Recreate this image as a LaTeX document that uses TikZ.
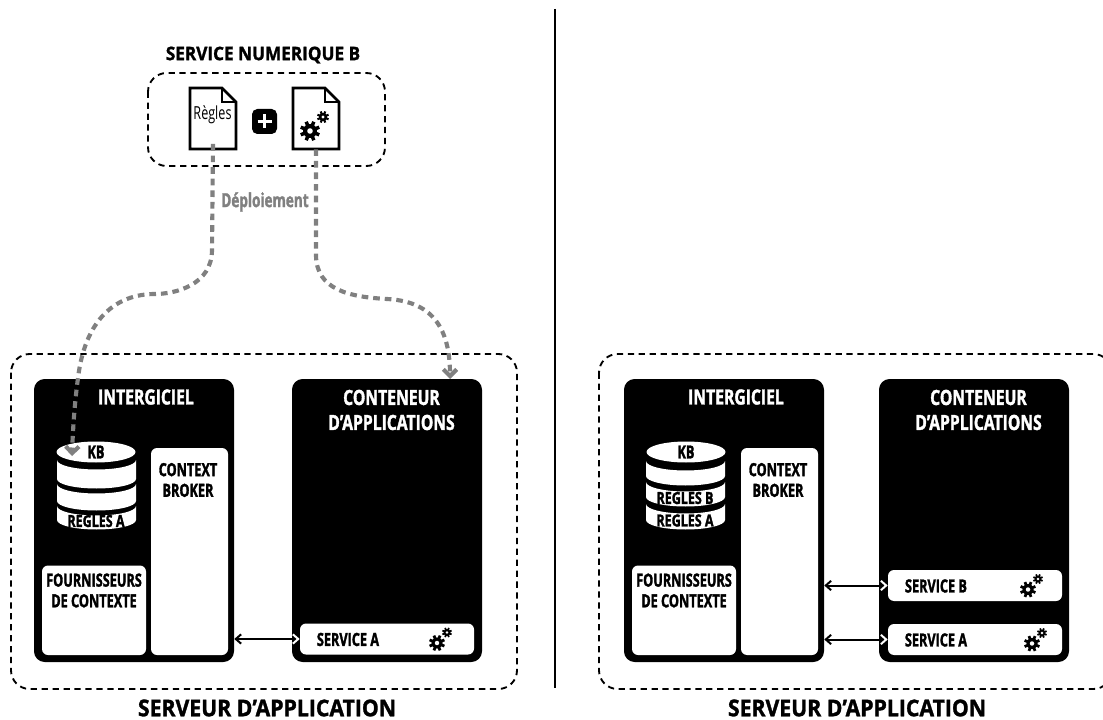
\documentclass[tikz,border=0pt]{standalone}
\usepackage{fontspec}
\setmainfont[FakeStretch=0.7, BoldFeatures={FakeBold=1.6}]{Open Sans}
\newfontfamily\headfont[FakeStretch=0.75, BoldFeatures={FakeBold=1.6}]{Open Sans}
\newfontfamily\widefont[FakeStretch=0.92, BoldFeatures={FakeBold=1.4}]{Open Sans}
\usetikzlibrary{arrows.meta}

\tikzset{
  server/.style={draw, line width=1.4pt, dash pattern=on 4.7pt off 3.5pt, rounded corners=14pt},
  block/.style={fill=black, rounded corners=8pt},
  panel/.style={fill=white, rounded corners=4.5pt},
  title/.style={font=\widefont\bfseries\fontsize{14}{16}\selectfont, align=center, inner sep=0pt},
  bigtitle/.style={font=\widefont\bfseries\fontsize{17.3}{18}\selectfont, align=center, inner sep=0pt},
  heading/.style={text=white, font=\headfont\bfseries\fontsize{15.7}{18.75}\selectfont, align=center, inner sep=0pt},
  label/.style={font=\bfseries\fontsize{13.6}{15.5}\selectfont, align=center, inner sep=0pt},
  rules/.style={font=\headfont\bfseries\fontsize{12.5}{15}\selectfont, inner sep=0pt},
  link/.style={{Straight Barb[length=4pt,width=7pt]}-{Straight Barb[length=4pt,width=7pt,color=white]}, line width=1.5pt},
  deploy/.style={draw=black!50, line width=3.1pt, dash pattern=on 5pt off 3.7pt},
  deployhead/.style={-{Straight Barb[length=5pt,width=10pt]}}
}

% Filled area as a node: style, name, left, top, right, bottom
\newcommand{\area}[6]{
  \node[#1, inner sep=0pt, minimum width={((#5)-(#3))*0.75pt}, minimum height={((#6)-(#4))*0.75pt}]
    (#2) at ({((#3)+(#5))/2},{((#4)+(#6))/2}) {};
}

% Gear: centre, radius
\newcommand{\gear}[2]{
  \foreach \a in {0,45,...,315}
    \draw[line width=#2*0.26pt] (#1) -- ++(\a+22.5:#2);
  \fill (#1) circle (#2*0.7);
  \fill[white] (#1) circle (#2*0.28);
}

% Document sheet: name, left, top
\newcommand{\sheet}[3]{
  \node[minimum width=34.5pt, minimum height=45.75pt, inner sep=0pt] (#1) at (#2+23,#3+30.5) {};
  \draw[line width=2.1pt, line join=miter] (#2,#3) -- (#2+32,#3) -- (#2+46,#3+14) -- (#2+46,#3+61) -- (#2,#3+61) -- cycle;
  \draw[line width=1.5pt] (#2+32,#3) -- (#2+32,#3+14) -- (#2+46,#3+14);
}

% Slice of the rule base: left, top edge, bottom edge
\newcommand{\slice}[3]{
  \fill[white] (#1,#2) arc[start angle=180, end angle=360, x radius=39.5, y radius=-9.5] -- (#1+79,#3)
    arc[start angle=0, end angle=180, x radius=39.5, y radius=9.5] -- cycle;
}

% Blocks of one server: prefix, left of intergiciel, left of conteneur
\newcommand{\server}[3]{
  \area{block}{#1inter}{#2}{379}{#2+200}{662}
  \area{block}{#1cont}{#3}{379}{#3+190}{662}
  \node[heading] (#1intertext) at (#2+112,397) {INTERGICIEL};
  \node[heading] (#1conttext) at (#3+99.5,410) {CONTENEUR\\D’APPLICATIONS};
  \area{panel}{#1broker}{#2+117}{448}{#2+194}{655}
  \node[label] (#1brokertext) at (#2+154,480) {CONTEXT\\BROKER};
  \area{panel}{#1supply}{#2+8}{565.5}{#2+112}{655}
  \node[label] (#1supplytext) at (#2+60,590.5) {FOURNISSEURS\\DE CONTEXTE};
  \fill[white] (#2+62,452) ellipse[x radius=39.5, y radius=10.5];
  \node[label] (#1kb) at (#2+62,452) {KB};
}

% Service row: name, left, top, text, big gear x offset
\newcommand{\service}[5]{
  \area{panel}{#1}{#2}{#3}{#2+174}{#3+31}
  \node[label] (#1text) at (#2+48,#3+16) {#4};
  \gear{#2+#5,#3+19.5}{8}
  \gear{#2+#5+10,#3+9}{5}
}

\begin{document}
\begin{tikzpicture}[x=0.75pt, y=-0.75pt]
  \useasboundingbox (0,0) rectangle (1103,720);

  % Separator
  \draw[line width=1.3pt] (555,9) -- (555,688);

  % Service numerique B
  \node[title] (numtitle) at (263,55) {SERVICE NUMERIQUE B};
  \draw[server] (148,73) rectangle (385,166);
  \sheet{regles}{190}{88}
  \sheet{gears}{293}{88}
  \node[inner sep=0pt, font=\fontsize{13.5}{14}\selectfont] (reglestext) at (212.5,115) {Règles};
  \gear{310,131}{10}
  \gear{323,117}{6}
  \area{fill=black, rounded corners=4pt}{plus}{252}{109}{277}{134}
  \draw[white, line width=2.2pt] (257.5,121.5) -- (271.5,121.5) (264.5,114.5) -- (264.5,128.5);

  % Left server
  \draw[server] (11,354) rectangle (517,689);
  \server{left}{34}{292}
  \slice{57}{460}{479}
  \slice{57}{484}{501}
  \slice{57}{506}{520}
  \node[rules] (leftrulesA) at (96,521) {REGLES A};
  \service{leftserviceA}{300}{623.5}{SERVICE A}{137}
  \draw[link] (leftinter.east |- leftserviceA) -- (leftserviceA.west);
  \node[bigtitle] (lefttitle) at (267,708) {SERVEUR D’APPLICATION};

  % Right server
  \draw[server] (599,354) rectangle (1112,689);
  \server{right}{624}{879}
  \slice{646}{461}{476}
  \slice{646}{482}{497}
  \slice{646}{504}{520}
  \node[rules] (rightrulesB) at (685,498) {REGLES B};
  \node[rules] (rightrulesA) at (685,520.5) {REGLES A};
  \service{rightserviceB}{888}{570}{SERVICE B}{140}
  \service{rightserviceA}{888}{624}{SERVICE A}{144}
  \draw[link] (rightinter.east |- rightserviceB) -- (rightserviceB.west);
  \draw[link] (rightinter.east |- rightserviceA) -- (rightserviceA.west);
  \node[bigtitle] (righttitle) at (857,708) {SERVEUR D’APPLICATION};

  % Deployment
  \node[text=black!50, inner sep=0pt, font=\bfseries\fontsize{14.5}{14}\selectfont] (deploiement) at (265,202) {Déploiement};
  \coordinate (leftkbin) at (72,456);
  \coordinate (leftcontin) at (450,379);
  \draw[deploy, deployhead] ([yshift=4pt]regles.south) -- (212,250) .. controls (212,285) and (175,294) .. (155,294)
     .. controls (115,294) and (85,320) .. (78,378) .. controls (75,400) and (73,425) .. (leftkbin);
  \draw[deploy, deployhead] (gears.south) -- (316,255) .. controls (316,290) and (350,297) .. (387,299)
     .. controls (425,301) and (450,320) .. (leftcontin);
\end{tikzpicture}
\end{document}
